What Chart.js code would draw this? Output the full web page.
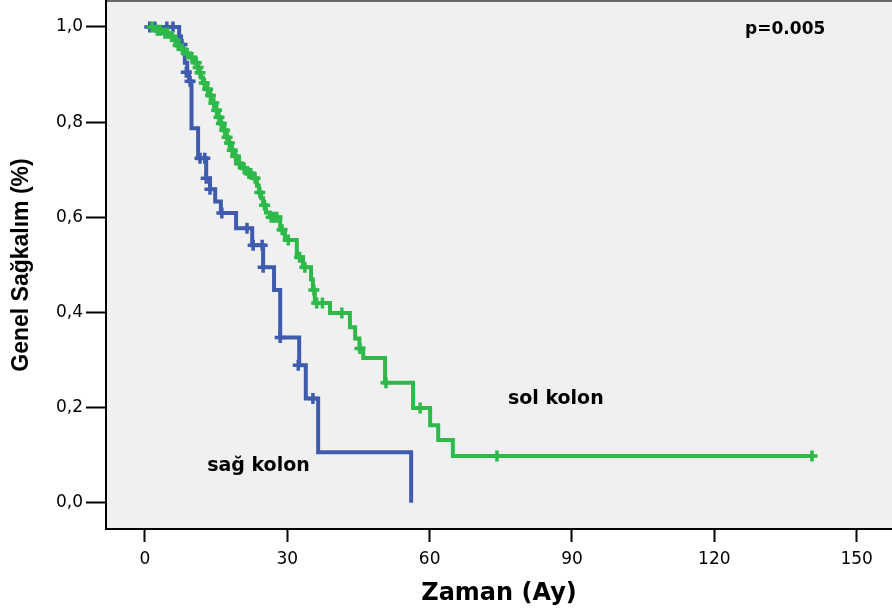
<!doctype html>
<html lang="tr">
<head>
<meta charset="utf-8">
<title>Genel Sağkalım</title>
<script src="https://cdn.jsdelivr.net/npm/chart.js@4.4.1/dist/chart.umd.min.js"></script>
<style>
  html, body { margin: 0; padding: 0; background: #fff; }
  #wrap { position: relative; width: 892px; height: 613px; }
</style>
</head>
<body>
<div id="wrap"><canvas id="km"></canvas></div>
<script>
// Kaplan-Meier: time in months vs overall survival, sol / sağ kolon
const X_TICKS = [0, 30, 60, 90, 120, 150];
const Y_TICKS = [0, 0.2, 0.4, 0.6, 0.8, 1.0];

// sol kolon (green): step times and survival after each step
const SOL_T = [1.0, 2.1, 3.6, 5.3, 6.1, 6.7, 7.4, 8.4, 9.5, 10.5, 11.0, 11.4, 11.8, 12.2, 12.9, 13.5, 14.1, 14.8, 15.4, 15.8,
  16.4, 17.1, 17.5, 18.1, 18.8, 19.4, 20.4, 21.5, 22.8, 23.6, 24.0, 24.5, 24.9, 25.5, 26.3, 28.5, 29.5, 32.0, 33.3, 35.0,
  35.4, 35.8, 39.0, 43.2, 44.3, 45.2, 46.0, 50.6, 56.5, 60.1, 61.8, 64.9, 140.6];
const SOL_S = [1.0, 0.993, 0.987, 0.980, 0.972, 0.961, 0.953, 0.944, 0.936, 0.925, 0.915, 0.904, 0.894, 0.882, 0.869, 0.856, 0.840, 0.825, 0.810, 0.797,
  0.783, 0.768, 0.756, 0.741, 0.728, 0.713, 0.703, 0.692, 0.682, 0.667, 0.652, 0.640, 0.625, 0.610, 0.600, 0.574, 0.552, 0.516, 0.495, 0.469,
  0.447, 0.420, 0.399, 0.369, 0.345, 0.324, 0.304, 0.252, 0.199, 0.163, 0.132, 0.098, 0.098];
// sol kolon censored cases
const SOL_CT = [1.5, 2.6, 3.2, 4.2, 4.8, 5.7, 6.4, 7.0, 7.9, 8.9, 9.9, 10.8, 11.2, 11.6, 12.5, 13.2, 13.8, 14.5, 15.1, 15.6,
  16.1, 16.8, 17.3, 17.8, 18.4, 19.1, 19.9, 20.9, 21.9, 22.3, 23.2, 24.2, 25.2, 26.6, 27.2, 27.8, 28.9, 30.2, 32.6, 33.7,
  35.6, 36.2, 37.4, 41.5, 45.3, 50.8, 58.0, 74.2, 140.6];
const SOL_CS = [1.0, 0.993, 0.993, 0.987, 0.987, 0.980, 0.972, 0.961, 0.953, 0.944, 0.936, 0.925, 0.915, 0.904, 0.882, 0.869, 0.856, 0.840, 0.825, 0.810,
  0.797, 0.783, 0.768, 0.756, 0.741, 0.728, 0.713, 0.703, 0.692, 0.692, 0.682, 0.652, 0.625, 0.600, 0.600, 0.600, 0.574, 0.552, 0.516, 0.495,
  0.447, 0.420, 0.420, 0.399, 0.324, 0.252, 0.199, 0.098, 0.098];

// sağ kolon (blue)
const SAG_T = [0.4, 7.2, 7.6, 8.0, 8.4, 8.9, 9.3, 9.8, 11.2, 12.9, 13.7, 14.8, 16.0, 19.2, 22.6, 24.9, 27.2, 28.5, 32.5, 33.9, 36.5, 56.1];
const SAG_S = [1.0, 0.980, 0.963, 0.945, 0.925, 0.905, 0.886, 0.787, 0.724, 0.682, 0.659, 0.633, 0.609, 0.577, 0.541, 0.495, 0.447, 0.347, 0.289, 0.219, 0.106, 0.0];
const SAG_CT = [1.0, 2.1, 4.6, 5.9, 7.8, 8.7, 9.5, 11.6, 12.6, 12.9, 13.7, 16.2, 21.5, 22.8, 24.7, 24.9, 28.5, 32.3, 35.4];
const SAG_CS = [1.0, 1.0, 1.0, 1.0, 0.963, 0.905, 0.886, 0.724, 0.724, 0.682, 0.659, 0.609, 0.577, 0.541, 0.541, 0.495, 0.347, 0.289, 0.219];

const NOTES = ['p=0.005', 'sol kolon', 'sağ kolon'];

const GREEN = '#2fb94b';
const BLUE = '#3e5bae';
const WIDE = '"DejaVu Sans", Verdana, sans-serif';
const NARROW = '"Liberation Sans", Arial, sans-serif';

const pts = (xs, ys) => xs.map((x, i) => ({ x, y: ys[i] }));

const plotFrame = {
  id: 'plotFrame',
  beforeDraw(chart) {
    const { ctx, chartArea: a } = chart;
    ctx.save();
    ctx.fillStyle = '#f0f0f0';
    ctx.fillRect(a.left, a.top, a.right - a.left, a.bottom - a.top);
    ctx.strokeStyle = '#6a6a6a';
    ctx.lineWidth = 2;
    ctx.beginPath();
    ctx.moveTo(a.left, a.top);
    ctx.lineTo(a.right, a.top);
    ctx.stroke();
    ctx.restore();
  },
  afterDraw(chart) {
    const { ctx, scales: { x, y } } = chart;
    ctx.save();
    ctx.fillStyle = '#000';
    ctx.textBaseline = 'middle';
    ctx.font = 'bold 17px ' + WIDE;
    ctx.fillText(NOTES[0], x.getPixelForValue(126.5), y.getPixelForValue(0.994));
    ctx.font = 'bold 19px ' + WIDE;
    ctx.fillText(NOTES[1], x.getPixelForValue(76.5), y.getPixelForValue(0.217));
    ctx.fillText(NOTES[2], x.getPixelForValue(13.1), y.getPixelForValue(0.078));
    ctx.restore();
  },
};

const lineDs = (data, color) => ({
  data, showLine: true, stepped: 'before', borderColor: color, borderWidth: 4,
  pointRadius: 0, fill: false, order: color === GREEN ? 1 : 2,
});
const censDs = (data, color) => ({
  data, showLine: false, pointStyle: 'cross', pointRadius: 5.5, borderColor: color,
  backgroundColor: color, borderWidth: 3.5, order: color === GREEN ? 0 : 2,
});

new Chart(document.getElementById('km'), {
  type: 'scatter',
  data: {
    datasets: [
      lineDs(pts(SAG_T, SAG_S), BLUE),
      censDs(pts(SAG_CT, SAG_CS), BLUE),
      lineDs(pts(SOL_T, SOL_S), GREEN),
      censDs(pts(SOL_CT, SOL_CS), GREEN),
    ],
  },
  options: {
    responsive: true,
    maintainAspectRatio: false,
    animation: false,
    layout: { autoPadding: false, padding: { top: 1, right: 0, left: 0, bottom: 0 } },
    plugins: { legend: { display: false }, tooltip: { enabled: false } },
    scales: {
      x: {
        type: 'linear', min: -8.22, max: 157.46,
        afterBuildTicks: (s) => { s.ticks = X_TICKS.map((v) => ({ value: v })); },
        afterFit: (s) => { s.height = 84; s.paddingLeft = 0; s.paddingRight = 0; },
        grid: { display: true, drawOnChartArea: false, tickLength: 13, tickColor: '#000', tickWidth: 2 },
        border: { display: true, color: '#000', width: 2 },
        ticks: { color: '#000', padding: 7, font: { family: WIDE, size: 17 } },
        title: { display: true, text: 'Zaman (Ay)', color: '#000', padding: { top: 0, bottom: 5 },
          font: { family: WIDE, size: 24, weight: 'bold' } },
      },
      y: {
        type: 'linear', min: -0.0553, max: 1.0546,
        afterBuildTicks: (s) => { s.ticks = Y_TICKS.map((v) => ({ value: v })); },
        afterFit: (s) => { s.width = 106; s.paddingTop = 0; s.paddingBottom = 0; },
        grid: { display: true, drawOnChartArea: false, tickLength: 20, tickColor: '#000', tickWidth: 2 },
        border: { display: true, color: '#000', width: 2 },
        ticks: { color: '#000', padding: 3, font: { family: WIDE, size: 17 },
          callback: (v) => v.toFixed(1).replace('.', ',') },
        title: { display: true, text: 'Genel Sağkalım (%)', color: '#000', padding: { top: 8, bottom: 0 },
          font: { family: NARROW, size: 23, weight: 'bold' } },
      },
    },
  },
  plugins: [plotFrame],
});
</script>
</body>
</html>
